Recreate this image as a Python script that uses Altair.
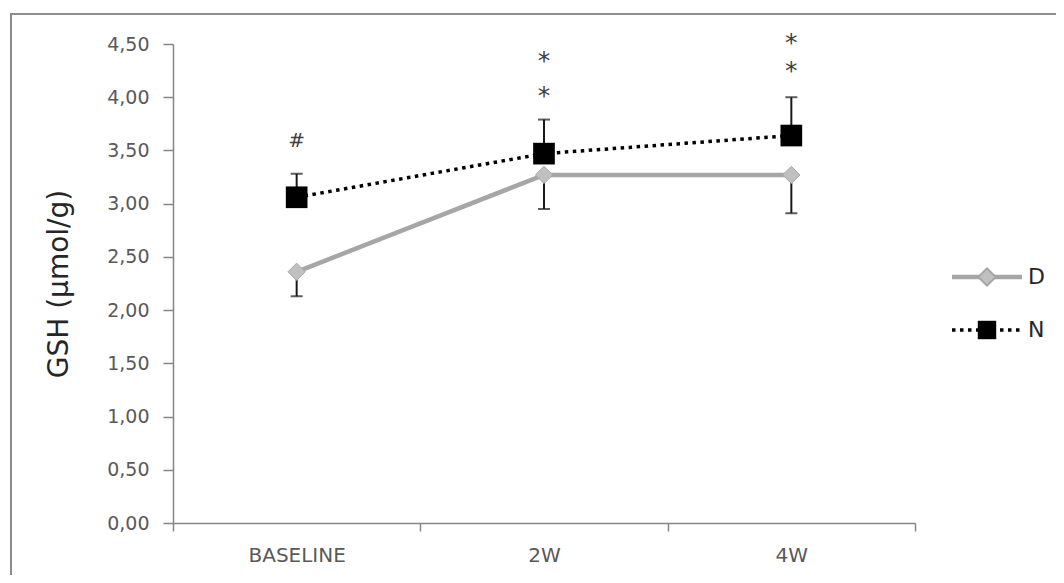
import altair as alt
import pandas as pd

# ---- data ----
categories = ["BASELINE", "2W", "4W"]
d_mean = [2.36, 3.27, 3.27]
d_low = [2.13, 2.95, 2.91]
n_mean = [3.06, 3.47, 3.64]
n_high = [3.28, 3.79, 4.00]

star_cat = ["2W", "2W", "4W", "4W"]
star_y = [4.40, 4.07, 4.57, 4.30]
hash_cat = ["BASELINE"]
hash_y = [3.60]

y_ticks = [0, 0.5, 1, 1.5, 2, 2.5, 3, 3.5, 4, 4.5]

W, H = 742, 479
FONT = "DejaVu Sans"

d_df = pd.DataFrame({"cat": categories, "mean": d_mean, "end": d_low})
n_df = pd.DataFrame({"cat": categories, "mean": n_mean, "end": n_high})
star_df = pd.DataFrame({"cat": star_cat, "y": star_y, "t": ["*"] * len(star_cat)})
hash_df = pd.DataFrame({"cat": hash_cat, "y": hash_y, "t": ["#"] * len(hash_cat)})

xscale = alt.Scale(domain=categories, paddingInner=0, paddingOuter=0)
yscale = alt.Scale(domain=[0, 4.5], nice=False)

xaxis = alt.Axis(title=None, tickBand="extent", labelAngle=0, labelFont=FONT,
                 labelFontSize=20, labelColor="#595959", labelPadding=14,
                 tickSize=8, tickColor="#868686", domainColor="#868686",
                 domainWidth=1.5, tickWidth=1.5, grid=False)
yaxis = alt.Axis(title="GSH (µmol/g)", values=y_ticks, labelExpr="replace(format(datum.value, '.2f'), '.', ',')",
                 labelFont=FONT, labelFontSize=19, labelColor="#595959", labelPadding=14,
                 tickSize=10, tickColor="#868686", domainColor="#868686",
                 domainWidth=1.5, tickWidth=1.5, grid=False,
                 titleFont=FONT, titleFontSize=28, titleFontWeight="normal",
                 titleColor="#262626", titleAngle=-90, titleX=-106, titleY=H / 2,
                 titleAlign="center", titleBaseline="alphabetic")

X = alt.X("cat:N", scale=xscale, axis=xaxis, sort=categories)
Xn = alt.X("cat:N", scale=xscale, sort=categories)
Y = alt.Y("mean:Q", scale=yscale, axis=yaxis)

base_d = alt.Chart(d_df)
base_n = alt.Chart(n_df)

d_line = base_d.mark_line(color="#a6a6a6", strokeWidth=4.5).encode(x=X, y=Y)
n_line = base_n.mark_line(color="#000000", strokeWidth=3.5, strokeDash=[3.5, 4.5]).encode(x=Xn, y="mean:Q")

err_kw = dict(color="#1a1a1a", strokeWidth=2)
d_err = base_d.mark_rule(**err_kw).encode(x=Xn, y="mean:Q", y2="end:Q")
n_err = base_n.mark_rule(**err_kw).encode(x=Xn, y="mean:Q", y2="end:Q")
d_cap = base_d.mark_tick(color="#1a1a1a", size=12, thickness=2).encode(x=Xn, y="end:Q")
n_cap = base_n.mark_tick(color="#1a1a1a", size=12, thickness=2).encode(x=Xn, y="end:Q")

d_pts = base_d.mark_point(shape="diamond", size=300, filled=True, fill="#c0c0c0",
                          stroke="#a6a6a6", strokeWidth=1, opacity=1).encode(x=Xn, y="mean:Q")
n_pts = base_n.mark_point(shape="square", size=470, filled=True, fill="#000000",
                          opacity=1).encode(x=Xn, y="mean:Q")

stars = alt.Chart(star_df).mark_text(font=FONT, fontSize=25, color="#404040",
                                     baseline="alphabetic", dy=14).encode(
    x=Xn, y=alt.Y("y:Q", scale=yscale), text="t:N")
hashes = alt.Chart(hash_df).mark_text(font=FONT, fontSize=20, color="#404040",
                                      baseline="alphabetic", dy=7).encode(
    x=Xn, y=alt.Y("y:Q", scale=yscale), text="t:N")

# ---- legend (decoration) ----
leg_src = pd.DataFrame({"s": ["D", "N"]})
leg_d = alt.Chart(leg_src).transform_filter(alt.datum.s == "D")
leg_n = alt.Chart(leg_src).transform_filter(alt.datum.s == "N")
lx1, lx2, lxm, ltx = 779, 849, 814, 855
ld, ln = 233, 286
legend = [
    leg_d.mark_rule(color="#a6a6a6", strokeWidth=4.5).encode(x=alt.value(lx1), x2=alt.value(lx2), y=alt.value(ld)),
    leg_d.mark_point(shape="diamond", size=300, filled=True, fill="#c0c0c0", stroke="#a6a6a6",
                     opacity=1).encode(x=alt.value(lxm), y=alt.value(ld)),
    leg_d.mark_text(font=FONT, fontSize=22, color="#262626", align="left", baseline="middle").encode(
        x=alt.value(ltx), y=alt.value(ld), text="s:N"),
    leg_n.mark_rule(color="#000000", strokeWidth=3.5, strokeDash=[3.5, 4.5]).encode(
        x=alt.value(lx1), x2=alt.value(lx2), y=alt.value(ln)),
    leg_n.mark_point(shape="square", size=340, filled=True, fill="#000000",
                     opacity=1).encode(x=alt.value(lxm), y=alt.value(ln)),
    leg_n.mark_text(font=FONT, fontSize=22, color="#262626", align="left", baseline="middle").encode(
        x=alt.value(ltx), y=alt.value(ln), text="s:N"),
]

frame = alt.Chart(leg_src).transform_filter(alt.datum.s == "D").mark_rect(
    fill=None, stroke="#8c8c8c", strokeWidth=2).encode(
    x=alt.value(-162), x2=alt.value(900), y=alt.value(-30), y2=alt.value(560))

chart = alt.layer(
    frame, d_line, n_line, d_err, n_err, d_cap, n_cap, d_pts, n_pts, stars, hashes, *legend
).properties(
    width=W, height=H,
    autosize=alt.AutoSizeParams(type="none"),
    padding={"left": 165, "top": 36, "right": 141, "bottom": 52},
    background="#ffffff",
).configure_view(stroke=None)

chart.save("out.html", embed_options={"renderer": "svg", "actions": False})
